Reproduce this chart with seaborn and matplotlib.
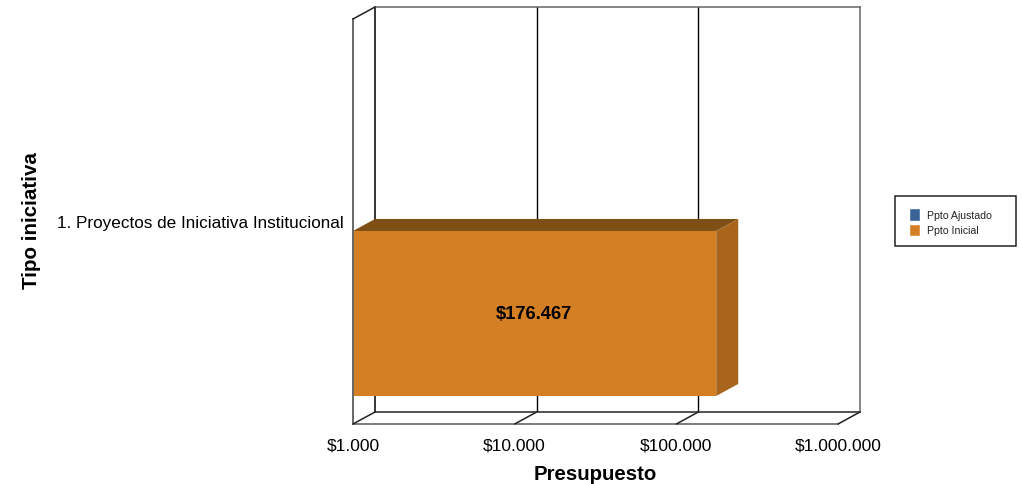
import numpy as np
import pandas as pd
import seaborn as sns
import matplotlib
matplotlib.use("Agg")
import matplotlib.pyplot as plt
from matplotlib.patches import ConnectionPatch, Polygon, Patch, Rectangle
from matplotlib.ticker import FuncFormatter, NullLocator
from matplotlib.transforms import IdentityTransform, ScaledTranslation

categories = ["1. Proyectos de Iniciativa Institucional"]
series_names = ["Ppto Ajustado", "Ppto Inicial"]
ppto_ajustado = [np.nan]
ppto_inicial = [176467]
x_ticks = [1000, 10000, 100000, 1000000]
x_label = "Presupuesto"
y_label = "Tipo iniciativa"

W, H = 1021, 485
FONT = "Liberation Sans"
BLUE, ORANGE, ORANGE_TOP, ORANGE_SIDE = "#3A6496", "#D57F24", "#7F5015", "#A9651C"
GRAY = "#666666"
DX, DY = 22, 12
L, T, R, B = 353, 20, 838, 425

sns.set_theme(style="white")
plt.rcParams["font.family"] = [FONT, "DejaVu Sans"]

df = pd.DataFrame({
    "categoria": categories * 2,
    "serie": [series_names[0]] * len(categories) + [series_names[1]] * len(categories),
    "valor": ppto_ajustado + ppto_inicial,
})

fig = plt.figure(figsize=(W / 100, H / 100), dpi=100, facecolor="white")


def box(l, t, r, b):
    return [l / W, 1 - b / H, (r - l) / W, (b - t) / H]


back = fig.add_axes(box(L + DX, T - DY, R + DX, B - DY), zorder=0)
ax = fig.add_axes(box(L, T, R, B), zorder=1)
ax.patch.set_alpha(0)

sns.barplot(data=df, y="categoria", x="valor", hue="serie", hue_order=series_names,
            palette=[BLUE, ORANGE], orient="h", width=0.8, saturation=1, linewidth=0,
            errorbar=None, legend=False, ax=ax)
ax.set_xscale("log")
xlim = (x_ticks[0], x_ticks[-1])
ylim = (0.468, -0.514)
ax.set_xlim(xlim)
ax.set_ylim(ylim)

back.set_xscale("log")
back.set_xticks(x_ticks[1:-1])
back.set_xlim(xlim)
back.set_ylim(ylim)
back.xaxis.set_minor_locator(NullLocator())
back.set_yticks([])
back.tick_params(axis="x", length=0, labelbottom=False)
back.grid(True, axis="x", color="black", linewidth=1)
back.set_xlabel("")
back.set_ylabel("")
for side, col in {"left": "black", "bottom": "#222222", "top": GRAY, "right": GRAY}.items():
    back.spines[side].set_color(col)
    back.spines[side].set_linewidth(1.1)

# Front plane
ax.set_xticks(x_ticks)
ax.xaxis.set_minor_locator(NullLocator())
ax.xaxis.set_major_formatter(FuncFormatter(lambda v, _: "\\$" + f"{v:,.0f}".replace(",", ".")))
ax.tick_params(axis="x", length=0, pad=9.5, labelsize=12.5, colors="black")
ax.tick_params(axis="y", length=0, pad=7, labelsize=12.35, colors="black")
for side in ["top", "right"]:
    ax.spines[side].set_visible(False)
ax.spines["left"].set_color(GRAY)
ax.spines["left"].set_linewidth(1.4)
ax.spines["bottom"].set_color(GRAY)
ax.spines["bottom"].set_linewidth(1.2)

bars = [p for p in ax.patches if isinstance(p, Rectangle)]

# Depth lines between front and back planes
corners = [(t, ylim[0]) for t in x_ticks] + [(x_ticks[0], ylim[1])]
for xy in corners:
    ax.add_artist(ConnectionPatch(xyA=xy, coordsA=ax.transData, xyB=xy, coordsB=back.transData,
                                  color="#222222", linewidth=1.1, zorder=3))

# 3D faces of the visible bar, derived from the bar itself
fig.canvas.draw()
for patch in bars:
    w = patch.get_width()
    if not np.isfinite(w) or w <= 0:
        continue
    y0, y1 = patch.get_y(), patch.get_y() + patch.get_height()
    x0, x1 = xlim[0], patch.get_x() + w
    ytop = min(y0, y1)
    ybot = max(y0, y1)
    (px0, ptop), (px1, pbot) = ax.transData.transform([(x0, ytop), (x1, ybot)])
    ax.add_patch(Polygon([(px0, ptop), (px1, ptop), (px1 + DX, ptop + DY), (px0 + DX, ptop + DY)],
                         closed=True, facecolor=ORANGE_TOP, edgecolor="none",
                         transform=IdentityTransform(), clip_on=False, zorder=2))
    ax.add_patch(Polygon([(px1, ptop), (px1 + DX, ptop + DY), (px1 + DX, pbot + DY), (px1, pbot)],
                         closed=True, facecolor=ORANGE_SIDE, edgecolor="none",
                         transform=IdentityTransform(), clip_on=False, zorder=2))
    ax.annotate(f"{w:,.0f}".replace(",", ".").join(["\\$", ""]),
                xy=(np.sqrt(x0 * x1), (y0 + y1) / 2), xytext=(-1, 0), textcoords="offset pixels",
                ha="center", va="center",
                fontsize=13.2, fontweight="bold", color="black", zorder=4)

# Category label is drawn slightly above the zero line of the dodged bars
for lab in ax.get_yticklabels():
    lab.set_transform(lab.get_transform() + ScaledTranslation(0, 10 / 100, fig.dpi_scale_trans))

ax.set_xlabel(x_label, fontsize=14.7, fontweight="bold", color="black", labelpad=0)
ax.xaxis.set_label_coords((595 - L) / (R - L), (B - 475) / (B - T), transform=ax.transAxes)
ax.xaxis.label.set_verticalalignment("center")
ax.set_ylabel(y_label, fontsize=14.8, fontweight="bold", color="black")
ax.yaxis.set_label_coords((32 - L) / (R - L), (B - 221) / (B - T), transform=ax.transAxes)
ax.yaxis.label.set_verticalalignment("center")

# Legend: swatches and labels, on a framed box
fig.add_artist(Rectangle((895 / W, 1 - 247 / H), 121 / W, 50 / H, transform=fig.transFigure,
                         facecolor="white", edgecolor="#222222", linewidth=1.1, zorder=1))
handles = [Patch(facecolor=BLUE, label=series_names[0]), Patch(facecolor=ORANGE, label=series_names[1])]
leg = fig.legend(handles=handles, loc="upper left", bbox_to_anchor=(908.5 / W, 1 - 209 / H),
                 fontsize=7.6, frameon=False,
                 handlelength=1.1, handleheight=1.45, handletextpad=0.62, labelspacing=0.3,
                 borderpad=0, borderaxespad=0)
for t in leg.get_texts():
    t.set_color("#222222")

fig.savefig("out.png", dpi=100, facecolor="white")
